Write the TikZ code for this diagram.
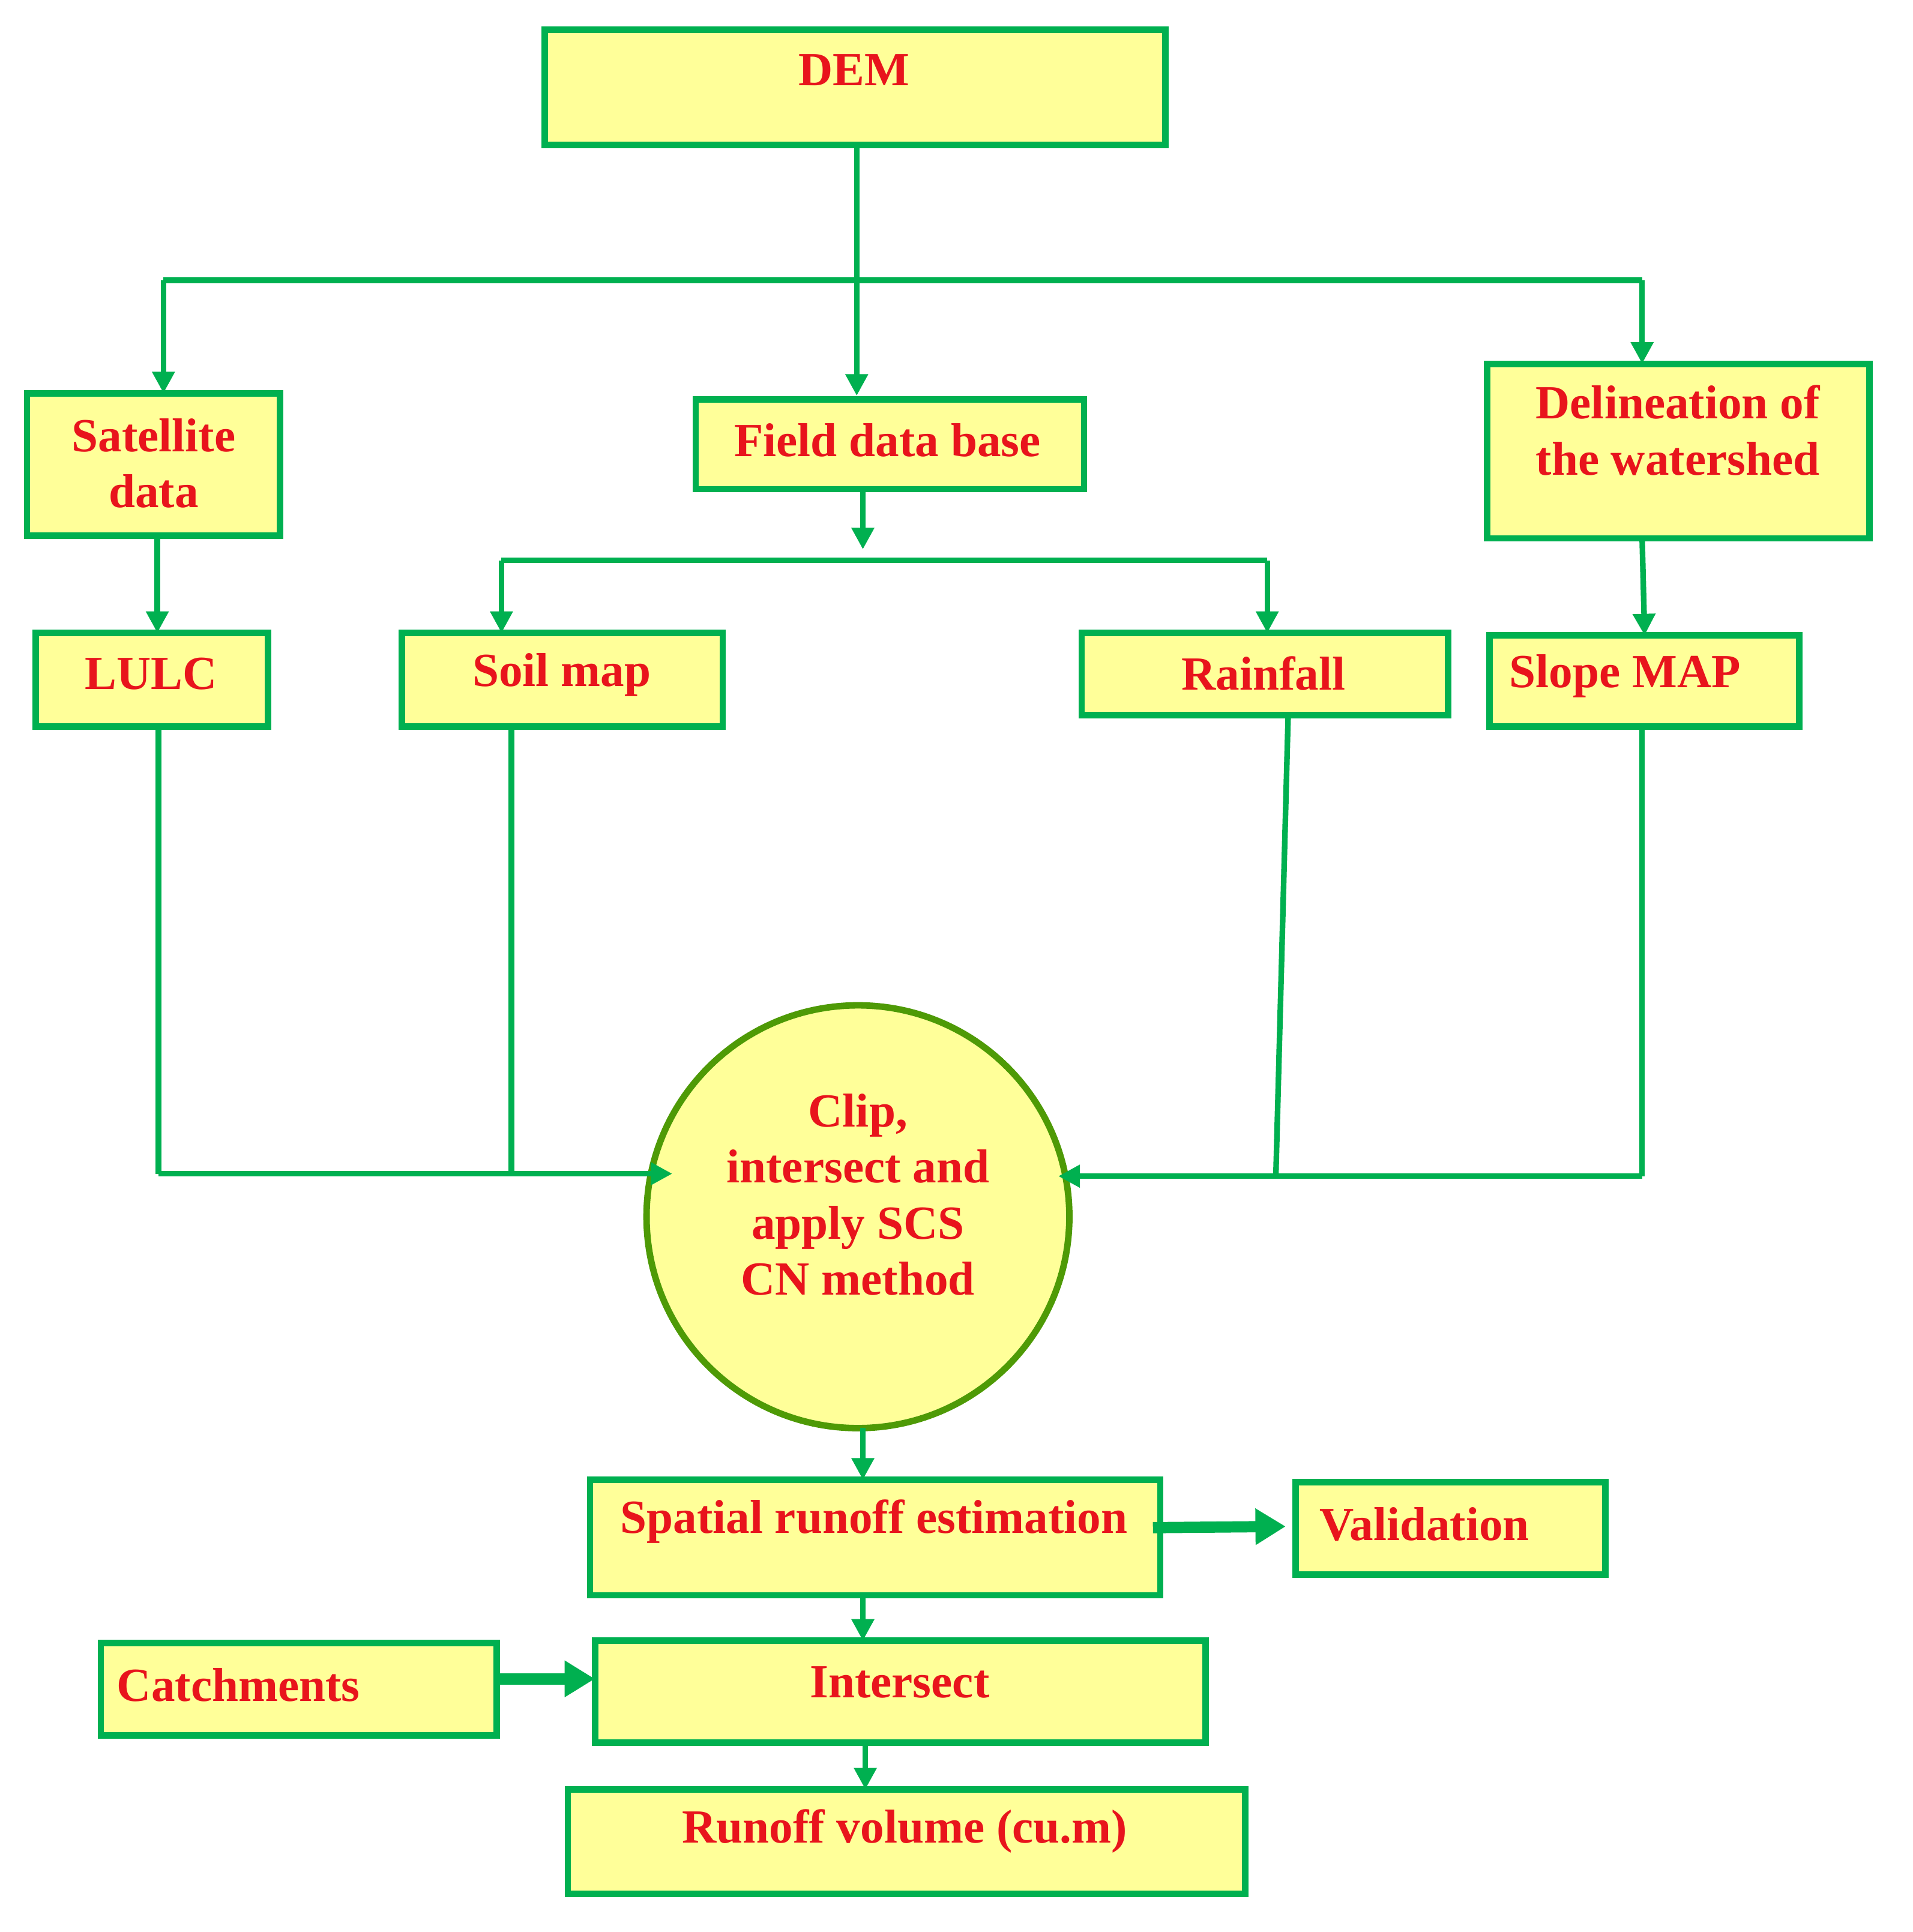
\documentclass[tikz,border=0pt]{standalone}
\usepackage{fontspec}
\setmainfont{Liberation Serif}
\usetikzlibrary{arrows.meta}
\definecolor{gr}{HTML}{00B050}
\definecolor{yf}{HTML}{FFFF99}
\definecolor{tx}{HTML}{E8141C}
\definecolor{ol}{HTML}{4E9A06}
\begin{document}
\begin{tikzpicture}[x=0.01cm,y=-0.01cm,
 box/.style={draw=gr,fill=yf,line width=1.5pt},
 lbl/.style={text=tx,font=\bfseries\fontsize{11}{13}\selectfont,align=center,inner sep=0},
 ln/.style={draw=gr,line width=1.3pt},
 ar/.style={ln,-{Triangle[length=5pt,width=5pt]}},
 tar/.style={draw=gr,line width=2.6pt,-{Triangle[length=7pt,width=8pt]}}]
\useasboundingbox (0,0) rectangle (1556,1572);
% boxes
\path[box] (443,24) rectangle (948,118); \node[lbl] (dem) at (695,57) {DEM};
\path[box] (22,320) rectangle (228,436); \node[lbl] (sat) at (125,377) {Satellite\\data};
\path[box] (566,325) rectangle (882,398); \node[lbl] (fdb) at (722,358) {Field data base};
\path[box] (1210,296) rectangle (1521,438); \node[lbl] (del) at (1365,350) {Delineation of\\the watershed};
\path[box] (29,515) rectangle (218,591); \node[lbl] (lulc) at (123,548) {LULC};
\path[box] (327,515) rectangle (588,591); \node[lbl] (soil) at (457,549) {Soil map};
\path[box] (880,515) rectangle (1178,582); \node[lbl] (rain) at (1028,548) {Rainfall};
\path[box] (1212,517) rectangle (1464,591); \node[lbl] (slope) at (1322,550) {Slope MAP};
\path[draw=ol,fill=yf,line width=1.5pt] (698,990) circle (172);
\node[lbl] (clip) at (698,972) {Clip,\\intersect and\\apply SCS\\CN method};
\path[box] (480,1204) rectangle (944,1298); \node[lbl] (spat) at (711,1238) {Spatial runoff estimation};
\path[box] (1054,1206) rectangle (1306,1281); \node[lbl] (val) at (1159,1240) {Validation};
\path[box] (82,1337) rectangle (404,1412); \node[lbl] (catch) at (194,1371) {Catchments};
\path[box] (484,1335) rectangle (981,1418); \node[lbl] (inter) at (732,1369) {Intersect};
\path[box] (462,1456) rectangle (1013,1541); \node[lbl] (vol) at (736,1490) {Runoff volume (cu.m)};
% coordinates
\coordinate (j1l) at (133,228); \coordinate (j1r) at (1336,228);
\coordinate (j2l) at (408,456); \coordinate (j2r) at (1031,456);
\coordinate (ll) at (129,955); \coordinate (sl) at (416,955);
\coordinate (rl) at (1038,957); \coordinate (sr) at (1336,957);
% connectors
\draw[ar] (697,118) -- (697,322);
\draw[ln] (j1l) -- (j1r);
\draw[ar] (j1l) -- (133,320);
\draw[ar] (j1r) -- (1336,296);
\draw[ar] (702,398) -- (702,447);
\draw[ln] (j2l) -- (j2r);
\draw[ar] (j2l) -- (408,515);
\draw[ar] (j2r) -- (1031,515);
\draw[ar] (128,436) -- (128,515);
\draw[ar] (1336,438) -- (1338,517);
\draw[ln] (129,591) -- (ll);
\draw[ar] (ll) -- (547,955);
\draw[ln] (416,591) -- (sl);
\draw[ln] (1048,582) -- (rl);
\draw[ln] (1336,591) -- (sr);
\draw[ar] (sr) -- (861,957);
\draw[ar] (702,1162) -- (702,1204);
\draw[ar] (702,1298) -- (702,1335);
\draw[tar] (938,1243) -- (1046,1242);
\draw[tar] (404,1366) -- (484,1366);
\draw[ar] (704,1418) -- (704,1456);
\end{tikzpicture}
\end{document}
